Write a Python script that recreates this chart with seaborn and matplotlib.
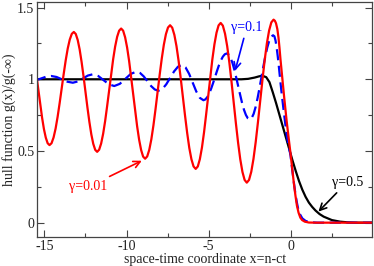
import matplotlib
matplotlib.use("Agg")
import matplotlib.pyplot as plt
import seaborn as sns
import pandas as pd
from matplotlib.ticker import MultipleLocator, FormatStrFormatter

# gamma = 0.01 (red)
x_red = [-15.597, -15.483, -15.37, -15.257, -15.143, -15.03, -14.917, -14.803, -14.69,
         -14.567, -14.443, -14.32, -14.197, -14.073, -13.95, -13.827, -13.703, -13.58, -13.457, -13.333, -13.21,
         -13.092, -12.973, -12.855, -12.737, -12.618, -12.50, -12.382, -12.263, -12.145, -12.027, -11.908, -11.79,
         -11.668, -11.547, -11.425, -11.303, -11.182, -11.06, -10.938, -10.817, -10.695, -10.573, -10.452, -10.33,
         -10.208, -10.087, -9.965, -9.843, -9.722, -9.60, -9.478, -9.357, -9.235, -9.113, -8.992, -8.87,
         -8.743, -8.617, -8.49, -8.363, -8.237, -8.11, -7.983, -7.857, -7.73, -7.603, -7.477, -7.35,
         -7.22, -7.09, -6.96, -6.83, -6.70, -6.57, -6.44, -6.31, -6.18, -6.05, -5.92, -5.79,
         -5.663, -5.537, -5.41, -5.283, -5.157, -5.03, -4.903, -4.777, -4.65, -4.523, -4.397, -4.27,
         -4.1375, -4.005, -3.8725, -3.74, -3.6075, -3.475, -3.3425, -3.21, -3.0775, -2.945, -2.8125, -2.68,
         -2.544, -2.408, -2.273, -2.137, -2.001, -1.865, -1.729, -1.593, -1.458, -1.322, -1.186, -1.05,
         -0.97, -0.90, -0.82, -0.75, -0.69, -0.63, -0.555, -0.48, -0.405, -0.33, -0.255, -0.18, -0.10,
         -0.02, 0.08, 0.18, 0.28, 0.37, 0.47, 0.58, 0.69, 0.85, 1.1, 1.5, 5.0]
y_red = [1.118, 1.025, 0.926, 0.826, 0.733, 0.653, 0.593, 0.554, 0.541,
         0.554, 0.594, 0.656, 0.738, 0.834, 0.936, 1.037, 1.133, 1.215, 1.277, 1.317, 1.330,
         1.316, 1.274, 1.208, 1.121, 1.020, 0.912, 0.804, 0.703, 0.616, 0.550, 0.508, 0.494,
         0.509, 0.552, 0.620, 0.709, 0.813, 0.924, 1.035, 1.139, 1.228, 1.296, 1.339, 1.354,
         1.339, 1.293, 1.221, 1.127, 1.017, 0.900, 0.783, 0.673, 0.579, 0.507, 0.461, 0.446,
         0.462, 0.508, 0.582, 0.679, 0.791, 0.912, 1.032, 1.144, 1.241, 1.315, 1.361, 1.377,
         1.360, 1.310, 1.231, 1.127, 1.005, 0.876, 0.747, 0.626, 0.521, 0.442, 0.392, 0.375,
         0.392, 0.443, 0.524, 0.630, 0.753, 0.884, 1.015, 1.139, 1.244, 1.325, 1.376, 1.393,
         1.374, 1.318, 1.230, 1.115, 0.980, 0.836, 0.692, 0.558, 0.442, 0.354, 0.298, 0.279,
         0.298, 0.355, 0.445, 0.563, 0.701, 0.848, 0.994, 1.132, 1.250, 1.340, 1.397, 1.416,
         1.408, 1.39, 1.35, 1.29, 1.22, 1.14, 1.05, 0.96, 0.875, 0.79, 0.71, 0.635, 0.56,
         0.485, 0.38, 0.28, 0.19, 0.12, 0.07, 0.035, 0.018, 0.007, 0.001, 0.0, 0.0]

# gamma = 0.1 (blue, dashed)
x_blue = [-15.5725, -15.245, -14.9175, -14.59,
          -14.26, -13.93, -13.60, -13.27,
          -12.965, -12.66, -12.355, -12.05,
          -11.725, -11.40, -11.075, -10.75,
          -10.4125, -10.075, -9.7375, -9.40,
          -9.177, -8.953, -8.73, -8.507, -8.283, -8.06,
          -7.822, -7.583, -7.345, -7.107, -6.868, -6.63,
          -6.412, -6.193, -5.975, -5.757, -5.538, -5.32,
          -5.202, -5.083, -4.965, -4.847, -4.728, -4.61, -4.492, -4.373, -4.255, -4.137, -4.018, -3.90,
          -3.783, -3.667, -3.55, -3.433, -3.317, -3.20, -3.083, -2.967, -2.85, -2.733, -2.617, -2.50,
          -2.382, -2.263, -2.145, -2.027, -1.908, -1.79, -1.672, -1.553, -1.435, -1.317, -1.198, -1.08,
          -1.0, -0.93, -0.86, -0.79, -0.72, -0.65, -0.58, -0.51, -0.44, -0.37, -0.30, -0.22, -0.12,
          -0.02, 0.08, 0.18, 0.28, 0.37, 0.45, 0.55, 0.70, 0.90, 1.2, 1.6, 5.0]
y_blue = [0.991, 1.004, 1.017, 1.023,
          1.016, 0.9995, 0.983, 0.976,
          0.985, 1.0055, 1.026, 1.035,
          1.023, 0.994, 0.965, 0.953,
          0.968, 1.003, 1.038, 1.053,
          1.044, 1.020, 0.9865, 0.953, 0.929, 0.920,
          0.932, 0.965, 1.010, 1.055, 1.088, 1.100,
          1.0835, 1.0385, 0.977, 0.9155, 0.8705, 0.854,
          0.8595, 0.876, 0.902, 0.9355, 0.975, 1.017, 1.059, 1.0985, 1.132, 1.158, 1.1745, 1.180,
          1.172, 1.149, 1.113, 1.065, 1.009, 0.950, 0.891, 0.835, 0.787, 0.751, 0.728, 0.720,
          0.730, 0.759, 0.806, 0.867, 0.938, 1.0135, 1.089, 1.160, 1.221, 1.268, 1.297, 1.307,
          1.30, 1.27, 1.22, 1.155, 1.08, 1.00, 0.925, 0.855, 0.785, 0.72, 0.655, 0.59, 0.53,
          0.47, 0.375, 0.285, 0.20, 0.14, 0.095, 0.06, 0.03, 0.012, 0.003, 0.0, 0.0]

# gamma = 0.5 (black)
x_black = [-15.6, -4.0, -3.0, -2.6, -2.2, -1.95, -1.75, -1.5, -1.3, -1.1,
           -0.9, -0.7, -0.5, -0.3, -0.1, 0.1, 0.3, 0.5, 0.7, 0.9,
           1.1, 1.3, 1.5, 1.75, 2.0, 2.5, 3.0, 3.5, 4.0, 5.0]
y_black = [1.0, 1.0, 1.0, 1.003, 1.012, 1.02, 1.025, 1.015, 0.98, 0.91,
           0.835, 0.755, 0.675, 0.595, 0.515, 0.435, 0.36, 0.29, 0.23, 0.18,
           0.14, 0.11, 0.085, 0.06, 0.042, 0.018, 0.007, 0.002, 0.0, 0.0]

x_ticks = [-15, -10, -5, 0]
y_ticks = [0, 0.5, 1, 1.5]

sns.set_style("ticks")
plt.rcParams['font.family'] = ['Liberation Serif', 'DejaVu Serif']

fig = plt.figure(figsize=(3.74, 2.66), dpi=100)
ax = fig.add_axes([0.099, 0.109, 0.896, 0.884])

df_k = pd.DataFrame({"x": x_black, "y": y_black})
df_b = pd.DataFrame({"x": x_blue, "y": y_blue})
df_r = pd.DataFrame({"x": x_red, "y": y_red})

sns.lineplot(data=df_k, x="x", y="y", ax=ax, color="black", linewidth=1.6, sort=False)
sns.lineplot(data=df_b, x="x", y="y", ax=ax, color="#0000ff", linewidth=1.6,
             sort=False, linestyle=(0, (5, 2.5)))
sns.lineplot(data=df_r, x="x", y="y", ax=ax, color="#ff0000", linewidth=1.6, sort=False)

ax.set_xlim(-15.45, 4.95)
ax.set_ylim(-0.1, 1.54)
ax.set_xticks(x_ticks)
ax.set_yticks(y_ticks)
ax.xaxis.set_minor_locator(MultipleLocator(2.5))
ax.yaxis.set_minor_locator(MultipleLocator(0.25))
ax.yaxis.set_major_formatter(FormatStrFormatter('%g'))
ax.xaxis.set_major_formatter(FormatStrFormatter('%g'))
ax.tick_params(which='both', direction='in', top=True, right=True,
               labelsize=10, color='#444444', labelcolor='#222222', pad=2)
ax.tick_params(which='major', length=5, width=0.8)
ax.tick_params(which='minor', length=3, width=0.8)
for s in ax.spines.values():
    s.set_color('#444444')
    s.set_linewidth(0.9)

ax.set_xlabel("space-time coordinate x=n-ct", fontsize=10, labelpad=0, color='#222222')
ax.set_ylabel("hull function g(x)/g(-\u221e)", fontsize=10, labelpad=1, color='#222222')

ax.annotate("\u03b3=0.1", xy=(-3.39, 1.06), xytext=(-2.68, 1.363), color="#0000ff",
            fontsize=10, ha='center', va='center',
            arrowprops=dict(arrowstyle='->', color='#0000ff', lw=1.2,
                            shrinkA=1, shrinkB=0, mutation_scale=12))
ax.annotate("\u03b3=0.01", xy=(-9.07, 0.432), xytext=(-12.33, 0.25), color="#ff0000",
            fontsize=10, ha='center', va='center',
            arrowprops=dict(arrowstyle='->', color='#ff0000', lw=1.2,
                            shrinkA=1, shrinkB=0, mutation_scale=12))
ax.annotate("\u03b3=0.5", xy=(1.68, 0.077), xytext=(3.43, 0.283), color="black",
            fontsize=10, ha='center', va='center',
            arrowprops=dict(arrowstyle='->', color='black', lw=1.2,
                            shrinkA=1, shrinkB=0, mutation_scale=12))

fig.savefig("out.png", dpi=100)
